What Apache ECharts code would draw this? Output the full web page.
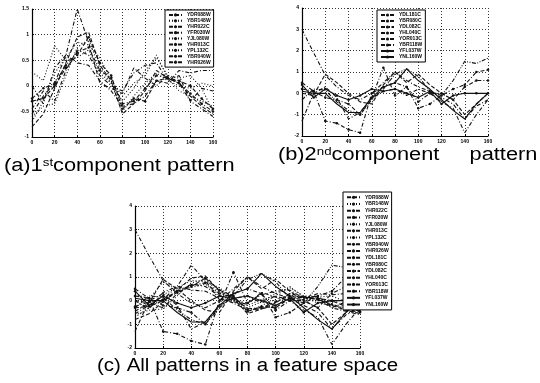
<!DOCTYPE html>
<html><head><meta charset="utf-8">
<script src="https://cdn.jsdelivr.net/npm/echarts@6/dist/echarts.min.js"></script>
<style>html,body{margin:0;padding:0;background:#fff}#c{width:540px;height:383px}</style>
</head><body><div id="c"></div>
<script>
// ---- data ----
const xValues = [0,10,20,30,40,50,60,70,80,90,100,110,120,130,140,150,160];
const xTicks = [0,20,40,60,80,100,120,140,160];
const yTicksA = [-1,-0.5,0,0.5,1,1.5];
const yTicksB = [-2,-1,0,1,2,3,4];

const namesA = ["YDR088W","YBR148W","YHR022C","YFR030W","YJL080W","YHR013C","YPL132C","YBR040W","YHR026W"];
const namesB = ["YDL181C","YBR080C","YDL082C","YHL040C","YOR013C","YBR118W","YFL037W","YNL160W"];

// 1st component patterns
const a1 = [-0.80,-0.55,-0.05,0.45,0.95,1.05,0.40,0.10,-0.55,-0.35,-0.10,0.30,0.15,0.05,-0.20,-0.40,-0.55];
const a2 = [0.27,0.10,0.78,0.50,0.55,0.70,0.25,0.05,-0.50,-0.20,0.05,0.25,0.10,0.00,-0.05,0.05,0.00];
const a3 = [-0.55,-0.20,0.05,0.60,1.50,0.85,0.05,-0.05,-0.15,0.35,0.15,0.00,0.20,0.05,-0.30,-0.05,-0.10];
const a4 = [-0.30,-0.25,0.00,0.35,0.60,0.95,0.45,0.20,-0.45,-0.25,-0.30,0.10,0.15,0.10,0.00,-0.25,-0.45];
const a5 = [-0.60,-0.40,-0.35,0.20,0.75,0.90,0.35,0.05,-0.30,-0.05,0.30,0.55,0.20,0.15,0.20,-0.05,-0.50];
const a6 = [0.00,-0.35,0.35,0.60,0.45,0.40,0.10,-0.10,-0.40,-0.35,-0.20,0.10,0.05,0.30,0.25,0.30,0.30];
const a7 = [-0.70,-0.30,0.25,0.55,0.85,0.80,0.55,0.10,-0.20,0.05,0.20,0.60,0.15,-0.10,-0.20,-0.30,-0.40];
const a8 = [-0.45,-0.10,-0.30,0.30,0.70,0.60,0.20,0.00,-0.10,0.25,0.40,0.45,0.10,0.20,-0.30,-0.45,-0.60];
const a9 = [-0.25,-0.05,0.05,0.40,0.65,0.75,0.30,0.15,-0.35,-0.30,-0.05,0.20,0.15,0.05,-0.15,-0.35,-0.50];

// 2nd component patterns
const b1 = [3.00,1.90,0.85,0.30,-0.10,-0.30,0.00,0.50,1.00,0.60,0.30,0.10,-0.20,-0.50,-1.20,-0.60,-0.30];
const b2 = [0.50,0.10,-1.30,-1.40,-1.70,-1.85,0.00,0.30,0.50,0.30,-0.70,-0.50,-0.10,0.20,0.40,1.00,1.10];
const b3 = [-0.30,0.20,0.15,-0.40,-0.80,-1.00,-0.30,0.20,0.90,1.15,0.80,0.10,-0.10,0.60,1.50,1.40,1.65];
const b4 = [-1.30,0.00,0.30,-0.20,-1.20,-0.90,-0.20,0.10,0.20,-0.10,0.20,0.00,-0.40,-0.70,-1.85,-1.00,-0.30];
const b5 = [0.20,0.10,-0.20,-0.30,-0.50,-1.00,-0.20,1.20,-0.10,0.30,-0.40,0.00,0.00,-0.30,0.30,0.60,0.60];
const b6 = [0.00,-0.10,0.90,0.50,0.00,-0.40,-0.50,0.40,1.00,0.50,0.90,0.40,0.00,-0.30,-1.00,-0.50,0.00];
const b7 = [0.10,0.00,0.00,-0.50,-0.90,-0.90,-0.20,0.30,0.50,1.15,0.60,0.20,-0.30,-0.80,-1.20,-0.50,0.00];
const b8 = [0.40,-0.20,0.20,-0.10,-0.30,-0.10,0.20,0.10,0.20,0.00,-0.20,0.10,-0.50,-0.10,0.00,0.00,0.00];

const seriesA = [a1,a2,a3,a4,a5,a6,a7,a8,a9];
const seriesB = [b1,b2,b3,b4,b5,b6,b7,b8];

// ---- styles (not data) ----
const DOT=[1,2], DASH=[4,2], DD=[4,2,1,2], DDD=[4,1.5,1,1.5,1,1.5];
const stylesA = [
  {t:DASH,s:'none'},{t:DOT,s:'none'},{t:DD,s:'none'},{t:DASH,s:'circle'},{t:DOT,s:'none'},
  {t:DD,s:'none'},{t:DOT,s:'none'},{t:DD,s:'none'},{t:DD,s:'circle'}
];
const stylesB = [
  {t:DD,s:'none'},{t:DD,s:'circle'},{t:DDD,s:'none'},{t:DD,s:'none'},{t:DD,s:'circle'},
  {t:DASH,s:'none'},{t:'solid',s:'none'},{t:'solid',s:'circle'}
];

function mk(name, vals, st, gi){
  return {
    type:'line', name:name, xAxisIndex:gi, yAxisIndex:gi,
    data: xValues.map((x,i)=>[x, vals[i]]),
    symbol: st.s, symbolSize: 2.5, showSymbol: st.s!=='none',
    lineStyle:{color:'#111', width:1.1, type:st.t},
    itemStyle:{color:'#111'},
    animation:false, silent:true
  };
}

const series = [];
seriesA.forEach((v,i)=>series.push(mk(namesA[i], v, stylesA[i], 0)));
seriesB.forEach((v,i)=>series.push(mk(namesB[i], v, stylesB[i], 1)));
seriesA.forEach((v,i)=>series.push(mk(namesA[i], v, stylesA[i], 2)));
seriesB.forEach((v,i)=>series.push(mk(namesB[i], v, stylesB[i], 2)));

function xAx(gi){
  return {gridIndex:gi, type:'value', min:xTicks[0], max:xTicks[xTicks.length-1], interval:xTicks[1]-xTicks[0],
    axisLine:{show:true,onZero:false,lineStyle:{color:'#000',width:1.2}},
    axisTick:{show:true,inside:true,length:2,lineStyle:{color:'#000'}},
    axisLabel:{fontSize:5,fontWeight:'bold',color:'#000',margin:3,fontFamily:'Liberation Sans'},
    splitLine:{show:true,lineStyle:{color:'#000',width:0.8,type:[1,2]}}};
}
function yAx(gi, ticks){
  return {gridIndex:gi, type:'value', min:ticks[0], max:ticks[ticks.length-1], interval:ticks[1]-ticks[0],
    axisLine:{show:true,onZero:false,lineStyle:{color:'#000',width:1.2}},
    axisTick:{show:true,inside:true,length:2,lineStyle:{color:'#000'}},
    axisLabel:{fontSize:5,fontWeight:'bold',color:'#000',margin:3,fontFamily:'Liberation Sans'},
    splitLine:{show:true,lineStyle:{color:'#000',width:0.8,type:[1,2]}}};
}
function lg(names, left, top, lh){
  return {data:names, orient:'vertical', left:left, top:top, selectedMode:false,
    backgroundColor:'#fff', borderColor:'#000', borderWidth:1, borderRadius:0,
    padding:[2,3,2,3], itemWidth:13, itemHeight:4, itemGap:0,
    textStyle:{fontSize:5, fontWeight:'bold', color:'#000', fontFamily:'Liberation Sans', lineHeight:lh}};
}

const capFont = '18px "Liberation Sans"';
const option = {
  backgroundColor:'#fff',
  animation:false,
  grid:[
    {left:32, right:327, top:9, bottom:246},
    {left:302, right:52, top:8, bottom:247},
    {left:135, right:180, top:206, bottom:35}
  ],
  xAxis:[xAx(0), xAx(1), xAx(2)],
  yAxis:[yAx(0, yTicksA), yAx(1, yTicksB), yAx(2, yTicksB)],
  legend:[
    lg(namesA, 165, 10, 5.9),
    lg(namesB, 377, 10, 6),
    lg(namesA.concat(namesB), 343, 192, 6.7)
  ],
  series: series,
  graphic:[
    {type:'text', x:4, y:166, scaleX:1.21, style:{text:'(a)1{s|st}component pattern', font:capFont, fill:'#000', verticalAlign:'middle',
      rich:{s:{fontSize:11, fontFamily:'Liberation Sans', verticalAlign:'top', fill:'#000'}}}},
    {type:'text', x:278, y:155, scaleX:1.21, style:{text:'(b)2{s|nd}component     pattern', font:capFont, fill:'#000', verticalAlign:'middle',
      rich:{s:{fontSize:11, fontFamily:'Liberation Sans', verticalAlign:'top', fill:'#000'}}}},
    {type:'text', x:97, y:366, scaleX:1.14, style:{text:'(c) All patterns in a feature space', font:capFont, fill:'#000', verticalAlign:'middle'}}
  ]
};
const chart = echarts.init(document.getElementById('c'), null, {renderer:'canvas'});
chart.setOption(option);
</script>
</body></html>
